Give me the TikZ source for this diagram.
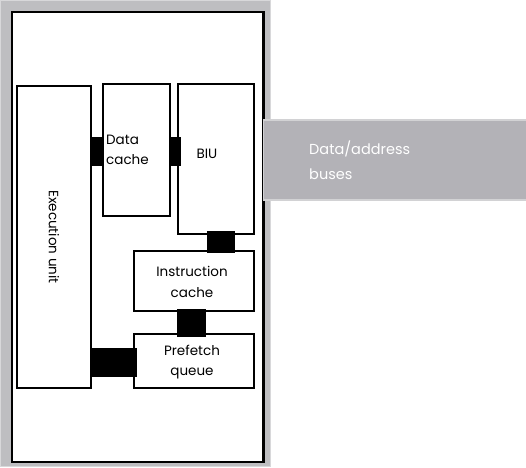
\documentclass[tikz,border=0pt]{standalone}
\usepackage{fontspec}
\setmainfont{Poppins}
\usetikzlibrary{positioning}
\definecolor{framegray}{RGB}{190,190,193}
\definecolor{busfill}{RGB}{179,178,183}
\definecolor{busedge}{RGB}{210,210,212}

\begin{document}
\begin{tikzpicture}[x=1pt, y=-1pt, font=\fontsize{13.5}{20.5}\selectfont,
  unit/.style={draw, line width=1.5pt, inner sep=0pt},
  label/.style={inner sep=0pt, align=center},
  link/.style={fill=black}]
\useasboundingbox (0,0) rectangle (526,467);
% chip outline
\draw[framegray!60, fill=framegray] (0.5,0.5) rectangle (270,466);
\draw[line width=2.5pt, fill=white] (12,12) rectangle (263.5,462);
% units
\node[unit, minimum width=74pt, minimum height=302pt] (eu) at (54,237) {};
\node[label, rotate=-90] (eutext) at (eu.center) {Execution unit};
\node[unit, minimum width=67pt, minimum height=132pt] (dc) at (136.5,150) {};
\node[label, align=left, anchor=west] (dctext) at (106,150) {Data\\cache};
\node[unit, minimum width=76pt, minimum height=150pt] (biu) at (216,159) {};
\node[label] (biutext) at (207,154) {BIU};
\node[unit, minimum width=120pt, minimum height=60pt] (ic) at (194,281) {};
\node[label] (ictext) at (192,282) {Instruction\\cache};
\node[unit, minimum width=120pt, minimum height=54pt] (pq) at (194,361) {};
\node[label] (pqtext) at (192,362) {Prefetch\\queue};
% links between units
\fill[link] (eu.east |- 0,137) rectangle (dc.west |- 0,166);
\fill[link] (dc.east |- 0,137) rectangle (181,166);
\fill[link] (207,231) rectangle (235,253);
\fill[link] (177,309) rectangle (206,337);
\fill[link] (eu.east |- 0,348) rectangle (137,377);
% external buses
\node[draw=busedge, fill=busfill, line width=1.5pt, minimum width=264pt,
  minimum height=80pt, inner sep=0pt] (bus) at (395.5,160) {};
\node[label, align=left, anchor=west, white,
  font=\fontsize{14.5}{25}\selectfont] (bustext) at (309,160) {Data/address\\buses};
\end{tikzpicture}
\end{document}
